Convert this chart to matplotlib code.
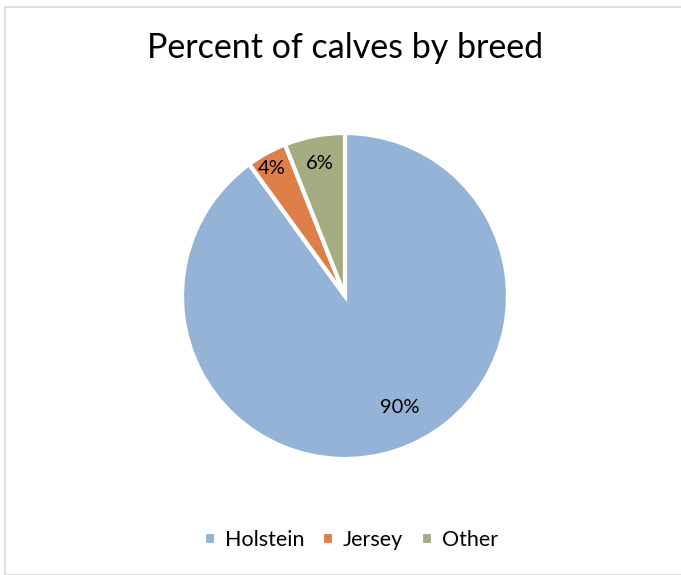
import matplotlib

matplotlib.use("Agg")
import numpy as np  # noqa: E402
import matplotlib.pyplot as plt  # noqa: E402
from matplotlib.patches import Rectangle  # noqa: E402

plt.rcParams["font.family"] = ["Lato", "DejaVu Sans"]

# data
breeds = ["Holstein", "Jersey", "Other"]
pct = [90, 4, 6]
colors = ["#95B3D7", "#DE7F49", "#A4AC82"]
# label placement (fraction of radius) per wedge, Excel "best fit" look
label_r = [0.76, 0.90, 0.83]
label_shift = [8, 1, 0]  # degrees, counterclockwise

W, H = 681, 575
fig = plt.figure(figsize=(W / 100, H / 100), dpi=100)

# light chart-area border
fig.patches.append(Rectangle((5 / W, 0), 1.0, (H - 7) / H, transform=fig.transFigure,
                             fill=False, edgecolor="#D9D9D9", lw=1.2))

cx, cy, r = 345, 296, 163
ax = fig.add_axes([(cx - r) / W, (H - cy - r) / H, 2 * r / W, 2 * r / H])
wedges, texts, autotexts = ax.pie(
    pct, colors=colors, startangle=90, counterclock=False,
    autopct="%1.0f%%", pctdistance=0.8,
    wedgeprops=dict(edgecolor="white", linewidth=3),
    textprops=dict(fontsize=14.5, color="black"),
)
for w, t, lr, sh in zip(wedges, autotexts, label_r, label_shift):
    ang = np.deg2rad((w.theta1 + w.theta2) / 2 + sh)
    t.set_position((lr * np.cos(ang), lr * np.sin(ang)))
ax.set_xlim(-1, 1)
ax.set_ylim(-1, 1)
ax.set_aspect("equal")
ax.axis("off")

fig.text(cx / W, 1 - 48 / H, "Percent of calves by breed", ha="center", va="center",
         fontsize=24.5)

fig.legend(wedges, breeds, loc="center", bbox_to_anchor=(351 / W, 1 - 540 / H),
           ncol=3, frameon=False, fontsize=15.5, handlelength=0.55, handleheight=0.55,
           handletextpad=0.4, columnspacing=0.85)

fig.savefig("out.png", dpi=100)
